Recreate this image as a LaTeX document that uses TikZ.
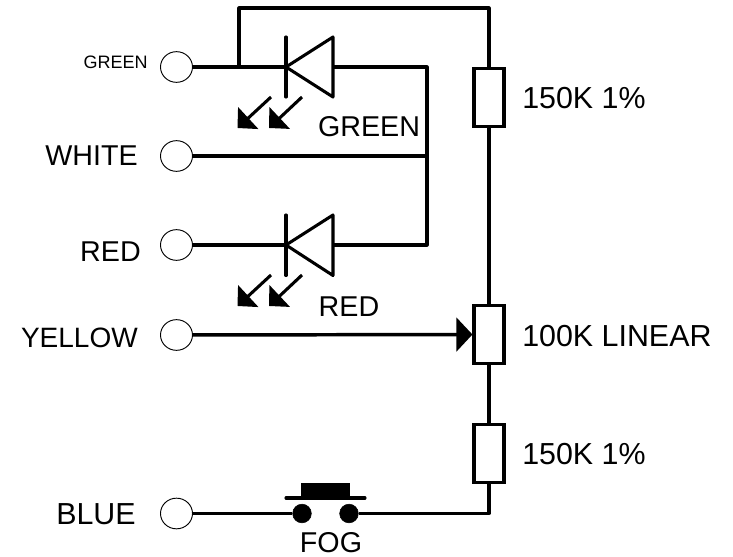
\documentclass[tikz,border=0pt]{standalone}
\usepackage{fontspec}
\setmainfont{Liberation Sans}
\usetikzlibrary{shapes, arrows.meta, positioning}

\begin{document}
\begin{tikzpicture}[x=0.75pt,y=-0.75pt]
\tikzset{wire/.style = {line width=2.3pt, line join=round},
	term/.style = {draw, ellipse, line width=0.7pt, minimum width=24pt, minimum height=23pt, inner sep=0pt},
	res/.style = {draw, line width=2.3pt, minimum width=22.5pt, minimum height=43pt, inner sep=0pt},
	lbl/.style = {font=\fontsize{21.5pt}{24pt}\selectfont, inner sep=0pt},
	lblw/.style = {font=\fontsize{22.8pt}{24pt}\selectfont, inner sep=0pt},
	lbls/.style = {font=\fontsize{13.5pt}{16pt}\selectfont, inner sep=0pt},
	contact/.style = {draw, fill, circle, minimum size=14pt, inner sep=0pt},
	ray/.style = {line width=2.3pt, -{Triangle[length=11pt,width=22pt,sep=0pt]}}}
\useasboundingbox (0,0) rectangle (733,557);
            % terminals
	\node[term] (tgreen) at (176.5,67) {};
	\node[term] (twhite) at (176.5,156) {};
	\node[term] (tred) at (176.5,245) {};
	\node[term] (tyellow) at (176.5,335) {};
	\node[term] (tblue) at (176.5,513.5) {};
	\node[lbls, anchor=east] (lgreen) at (148,62) {GREEN};
	\node[lbl, anchor=east] (lwhite) at (138,156) {WHITE};
	\node[lbl, anchor=east] (lred) at (141,252) {RED};
	\node[lbl, font=\fontsize{21pt}{24pt}\selectfont, anchor=east] (lyellow) at (138,337.5) {YELLOW};
	\node[lblw, anchor=east] (lblue) at (136,514) {BLUE};
            % resistors
	\node[res] (r1) at (489,97.5) {};
	\node[res] (pot) at (489,334.5) {};
	\node[res] (r2) at (489,453.5) {};
	\node[lblw, anchor=west] (lr1) at (522,98) {150K 1\%};
	\node[lblw, anchor=west] (lpot) at (522,336.5) {100K LINEAR};
	\node[lblw, anchor=west] (lr2) at (522,454) {150K 1\%};
            % corners
	\coordinate (c1) at (239,8);
	\coordinate (c2) at (489,8);
	\coordinate (j1) at (239,67);
	\coordinate (c3) at (427,67);
	\coordinate (j2) at (427,156);
	\coordinate (c4) at (427,245);
	\coordinate (c5) at (489,513.5);
            % green led
	\coordinate (k1) at (286,67);
	\coordinate (k1t) at (286,37);
	\coordinate (k1b) at (286,97);
	\coordinate (a1) at (333,67);
	\coordinate (a1t) at (333,37);
	\coordinate (a1b) at (333,97);
	\coordinate (g1s) at (271,97);
	\coordinate (g1e) at (237.5,128);
	\coordinate (g2s) at (302,97);
	\coordinate (g2e) at (269,128);
	\node[lbl] (lled1) at (369,127) {GREEN};
            % red led
	\coordinate (k2) at (286,245);
	\coordinate (k2t) at (286,215);
	\coordinate (k2b) at (286,275.5);
	\coordinate (a2) at (333,245);
	\coordinate (a2t) at (333,215);
	\coordinate (a2b) at (333,275.5);
	\coordinate (g3s) at (271,275);
	\coordinate (g3e) at (237.5,306);
	\coordinate (g4s) at (302,275);
	\coordinate (g4e) at (269,306);
	\node[lbl] (lled2) at (349,307) {RED};
            % switch
	\node[contact] (s1) at (302,513.5) {};
	\node[contact] (s2) at (349,513.5) {};
	\coordinate (b1) at (286,498);
	\coordinate (b2) at (365,498);
	\node[draw, fill, line width=0.75pt, minimum width=36pt, minimum height=10pt, inner sep=0pt] (btn) at (325.5,490.5) {};
	\node[lbl] (lfog) at (331,543) {FOG};
            %edges
	\draw[wire] (tgreen) -- (k1);
	\draw[wire] (j1) -- (c1) -- (c2) -- (r1.north);
	\draw[wire] (a1) -- (c3) -- (c4) -- (a2);
	\draw[wire] (twhite) -- (j2);
	\draw[wire] (tred) -- (k2);
	\draw[wire] (r1.south) -- (pot.north);
	\draw[wire] (pot.south) -- (r2.north);
	\draw[wire] (r2.south) -- (c5) -- (s2);
	\draw[wire] (tblue) -- (s1);
	\draw[wire, line width=2.6pt, -{Triangle[length=12pt,width=25pt,sep=0pt]}] (tyellow) -- (pot.west);
	\draw[wire, line cap=round] (b1) -- (b2);
	\draw[wire, line cap=round] (k1t) -- (k1b);
	\draw[wire] (a1t) -- (k1) -- (a1b) -- cycle;
	\draw[wire, line cap=round] (k2t) -- (k2b);
	\draw[wire] (a2t) -- (k2) -- (a2b) -- cycle;
	\draw[ray] (g1s) -- (g1e);
	\draw[ray] (g2s) -- (g2e);
	\draw[ray] (g3s) -- (g3e);
	\draw[ray] (g4s) -- (g4e);
\end{tikzpicture}
\end{document}
